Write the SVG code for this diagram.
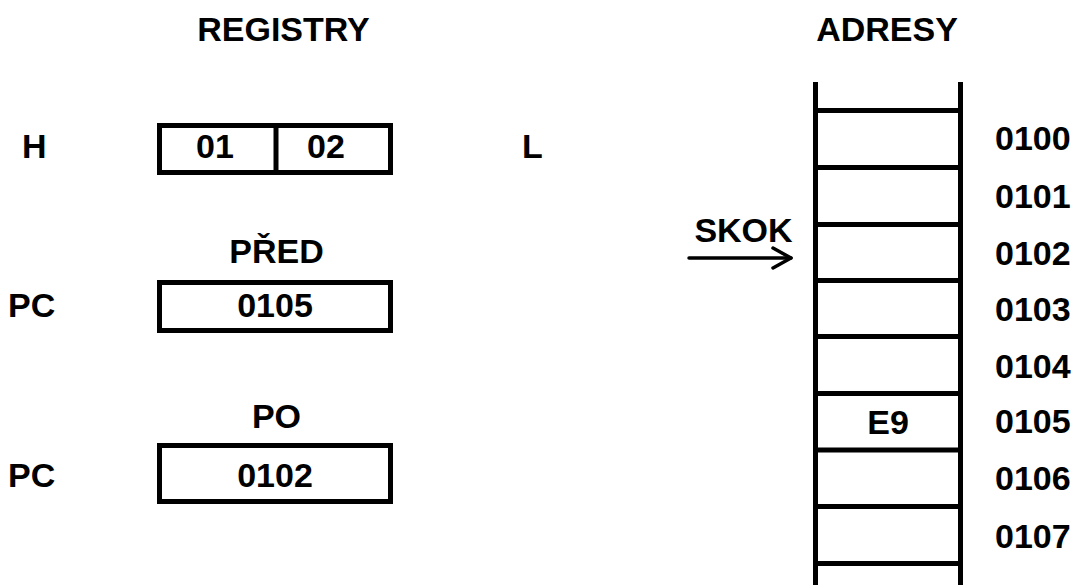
<svg xmlns="http://www.w3.org/2000/svg" width="1076" height="585" viewBox="0 0 1076 585">
  <style>
    text { font-family: "Liberation Sans", Arial, sans-serif; font-weight: bold; font-size: 34px; fill: #000; }
    .c { text-anchor: middle; }
    .box { fill: #fff; stroke: #000; stroke-width: 5; }
    .rail { stroke: #000; stroke-width: 5; fill: none; }
    .arrow { stroke: #000; stroke-width: 3.5; fill: none; stroke-linecap: round; stroke-linejoin: round; }
  </style>

  <!-- headings -->
  <text id="title-registry" class="c" x="283.5" y="41">REGISTRY</text>
  <text id="title-adresy" class="c" x="887" y="41">ADRESY</text>

  <!-- HL register pair -->
  <g id="reg-hl">
    <rect class="box" x="159.5" y="125.5" width="231" height="47"/>
    <line class="rail" x1="276" y1="125.5" x2="276" y2="172.5"/>
    <text x="22" y="158">H</text>
    <text class="c" x="215" y="158">01</text>
    <text class="c" x="326" y="158">02</text>
    <text x="522" y="158">L</text>
  </g>

  <!-- program counter before the jump -->
  <g id="reg-pc-before">
    <text class="c" x="276.5" y="263">PŘED</text>
    <rect class="box" x="159.5" y="282.5" width="231" height="48"/>
    <text x="8" y="317">PC</text>
    <text class="c" x="275" y="317">0105</text>
  </g>

  <!-- program counter after the jump -->
  <g id="reg-pc-after">
    <text class="c" x="276.5" y="428">PO</text>
    <rect class="box" x="159.5" y="445.5" width="231" height="56"/>
    <text x="8" y="487">PC</text>
    <text class="c" x="275" y="487">0102</text>
  </g>

  <!-- memory ladder -->
  <g id="memory">
    <line class="rail" x1="815.5" y1="82" x2="815.5" y2="585"/>
    <line class="rail" x1="960.5" y1="82" x2="960.5" y2="585"/>
    <line class="rail" x1="815.5" y1="110.5" x2="960.5" y2="110.5"/>
    <line class="rail" x1="815.5" y1="167.5" x2="960.5" y2="167.5"/>
    <line class="rail" x1="815.5" y1="224.5" x2="960.5" y2="224.5"/>
    <line class="rail" x1="815.5" y1="280.5" x2="960.5" y2="280.5"/>
    <line class="rail" x1="815.5" y1="336.5" x2="960.5" y2="336.5"/>
    <line class="rail" x1="815.5" y1="393.5" x2="960.5" y2="393.5"/>
    <line class="rail" x1="815.5" y1="450" x2="960.5" y2="450"/>
    <line class="rail" x1="815.5" y1="506.5" x2="960.5" y2="506.5"/>
    <line class="rail" x1="815.5" y1="563.5" x2="960.5" y2="563.5"/>
    <text class="c" x="888" y="434">E9</text>
  </g>

  <!-- addresses -->
  <g id="addresses">
    <text x="995" y="150">0100</text>
    <text x="995" y="208">0101</text>
    <text x="995" y="265">0102</text>
    <text x="995" y="321">0103</text>
    <text x="995" y="378">0104</text>
    <text x="995" y="433">0105</text>
    <text x="995" y="490">0106</text>
    <text x="995" y="548">0107</text>
  </g>

  <!-- jump arrow -->
  <g id="connectors">
    <text class="c" x="743.5" y="242">SKOK</text>
    <line class="arrow" x1="689" y1="258" x2="791" y2="258"/>
    <polyline class="arrow" points="773,248 791,258 773,268"/>
  </g>
</svg>
